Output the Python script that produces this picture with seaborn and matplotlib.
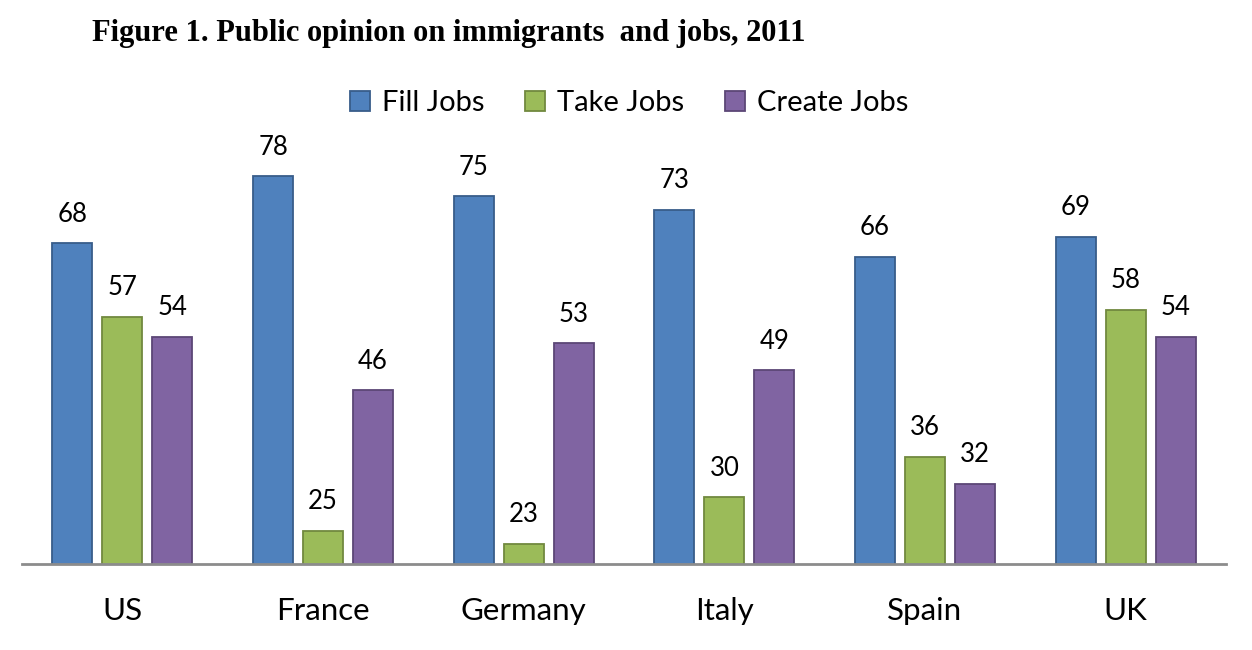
import matplotlib
matplotlib.use("Agg")
import matplotlib.pyplot as plt
import seaborn as sns
import pandas as pd
from matplotlib.patches import Patch

countries = ["US", "France", "Germany", "Italy", "Spain", "UK"]
series = ["Fill Jobs", "Take Jobs", "Create Jobs"]
fill_jobs = [68, 78, 75, 73, 66, 69]
take_jobs = [57, 25, 23, 30, 36, 58]
create_jobs = [54, 46, 53, 49, 32, 54]
title = "Figure 1. Public opinion on immigrants  and jobs, 2011"

colors = ["#4F81BD", "#9BBB59", "#8064A2"]
edges = ["#385D8A", "#71893F", "#5C4776"]

rows = []
for name, vals in zip(series, [fill_jobs, take_jobs, create_jobs]):
    for c, v in zip(countries, vals):
        rows.append({"Country": c, "Series": name, "Value": v})
df = pd.DataFrame(rows)

sns.set_style("white")
plt.rcParams["font.family"] = ["Lato", "DejaVu Sans"]
plt.rcParams["text.color"] = "black"
plt.rcParams["xtick.color"] = "black"

W, H = 1252, 650
fig = plt.figure(figsize=(W / 100, H / 100), dpi=100)
ax_left, ax_right = 22, 1226
ax_bottom, ax_top = 564, 163
ax = fig.add_axes([ax_left / W, 1 - ax_bottom / H, (ax_right - ax_left) / W, (ax_bottom - ax_top) / H])

sns.barplot(data=df, x="Country", y="Value", hue="Series", order=countries,
            hue_order=series, palette=colors, width=0.746, gap=0.2,
            ax=ax, legend=False, saturation=1)

for i, cont in enumerate(ax.containers):
    for p in cont.patches:
        p.set_edgecolor(edges[i])
        p.set_linewidth(1.3)
    ax.bar_label(cont, labels=[str(int(v)) for v in cont.datavalues], padding=12,
                 fontsize=18.5, color="black", clip_on=False)

ax.set_ylim(20, 80)
ax.set_xlim(-0.5, len(countries) - 0.5)
ax.set_yticks([])
ax.set_xlabel("")
ax.set_ylabel("")
for s in ["top", "right", "left"]:
    ax.spines[s].set_visible(False)
ax.spines["bottom"].set_color("#8C8C8C")
ax.spines["bottom"].set_linewidth(2)
ax.tick_params(axis="x", length=0, pad=24, labelsize=22.5, labelcolor="black")

handles = [Patch(facecolor=colors[i], edgecolor=edges[i], linewidth=1.3, label=series[i]) for i in range(3)]
fig.legend(handles=handles, loc="center", bbox_to_anchor=(629 / W, 1 - 103 / H), ncol=3,
           frameon=False, fontsize=21, handlelength=0.7, handleheight=0.7,
           handletextpad=0.4, columnspacing=1.4, labelcolor="black")

fig.text(92 / W, 1 - 33 / H, title, fontsize=22, fontweight="bold", color="black",
         family=["Liberation Serif", "DejaVu Serif"], va="center", ha="left")

fig.savefig("out.png", dpi=100)
